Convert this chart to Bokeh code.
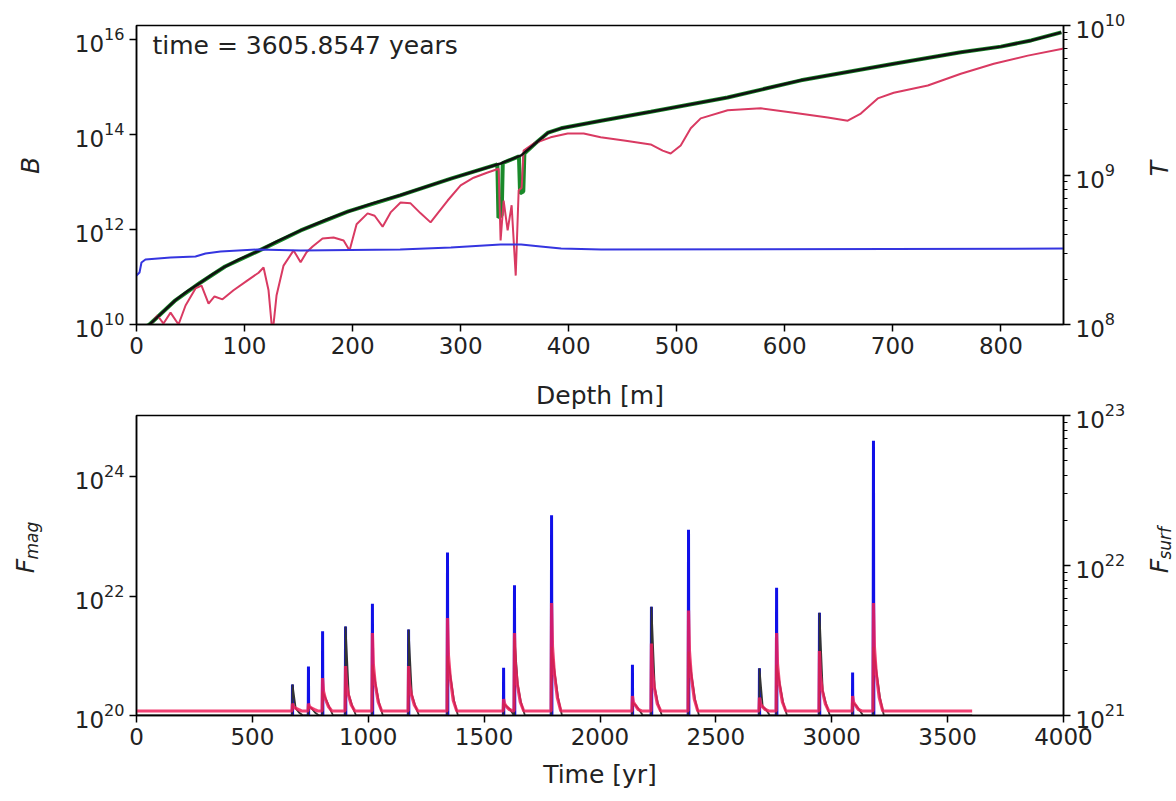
import math
from bokeh.plotting import figure
from bokeh.models import Range1d, LogAxis, LogScale, FixedTicker, Label, Title
from bokeh.layouts import column, row
from bokeh.embed import file_html
from bokeh.resources import INLINE

FONT = "DejaVu Sans"

# ---------------- top panel data (depth in m, log10 values) ----------------
black_depth = [3.7, 13, 20, 36, 47, 59, 70, 82, 95, 112, 130, 152, 175, 196, 220, 244, 268, 291, 314, 337,
               356, 369, 381, 393, 430, 476, 547, 615, 701, 763, 800, 828, 856]
black_logB = [9.87, 10.02, 10.17, 10.51, 10.70, 10.88, 11.05, 11.22, 11.37, 11.54, 11.75, 11.98, 12.20, 12.38,
              12.56, 12.72, 12.90, 13.07, 13.23, 13.39, 13.56, 13.81, 14.04, 14.13, 14.29, 14.48, 14.78, 15.14,
              15.49, 15.73, 15.85, 15.98, 16.15]

green_depth = [3.7, 13, 36, 59, 82, 112, 152, 196, 244, 291, 334, 335, 338, 339, 354, 355, 358, 359, 369, 381,
               393, 430, 476, 547, 615, 701, 763, 800, 828, 856]
green_logB = [9.87, 10.02, 10.51, 10.88, 11.22, 11.54, 11.98, 12.38, 12.72, 13.07, 13.37, 12.25, 12.30, 13.40,
              13.54, 12.76, 12.80, 13.60, 13.81, 14.04, 14.13, 14.29, 14.48, 14.78, 15.14, 15.49, 15.73, 15.85,
              15.98, 16.15]

red_depth = [13.0, 19.4, 25.0, 31.5, 38.9, 45.4, 54.6, 60.2, 66.7, 72.2, 79.6, 89.8, 102.8, 113.0, 117.6, 122.2,
             125.9, 129.6, 136.1, 145.4, 151.9, 157.4, 163.0, 172.2, 182.4, 191.7, 197.2, 203.7, 213.9, 220.4,
             227.8, 235.2, 244.4, 253.7, 263.0, 272.2, 278.7, 288.0, 300.0, 312.0, 325.0, 335.2, 337.0, 339.8,
             343.5, 347.2, 351.0, 353.7, 356.5, 358.3, 367.6, 383.3, 399.1, 413.9, 429.6, 452.8, 475.9, 487.0,
             494.4, 503.7, 513.0, 522.2, 547.2, 577.8, 608.3, 639.8, 658.3, 670.4, 686.1, 700.9, 732.4, 763.0,
             793.5, 825.0, 858.3]
red_logB = [10.0, 10.19, 10.02, 10.25, 10.0, 10.40, 10.76, 10.82, 10.44, 10.59, 10.53, 10.72, 10.93, 11.09,
            11.20, 10.72, 9.80, 10.61, 11.24, 11.56, 11.31, 11.52, 11.64, 11.81, 11.83, 11.77, 11.56, 12.11,
            12.34, 12.29, 12.06, 12.36, 12.57, 12.55, 12.34, 12.15, 12.34, 12.61, 12.93, 13.09, 13.20, 13.28,
            11.77, 12.61, 11.98, 12.51, 11.03, 12.82, 12.88, 13.66, 13.81, 13.94, 14.02, 14.02, 13.94, 13.87,
            13.79, 13.66, 13.60, 13.77, 14.13, 14.34, 14.51, 14.55, 14.46, 14.36, 14.29, 14.44, 14.76, 14.88,
            15.03, 15.28, 15.49, 15.66, 15.81]

blue_depth = [0, 2.8, 4.6, 8.3, 31.5, 54.6, 63.9, 77.8, 112, 152, 244, 291, 337, 356, 374, 393, 430, 858]
blue_logT = [8.328, 8.348, 8.415, 8.435, 8.448, 8.455, 8.475, 8.488, 8.502, 8.495, 8.502, 8.515, 8.535, 8.535,
             8.522, 8.508, 8.502, 8.508]

depth_ticks = [0, 100, 200, 300, 400, 500, 600, 700, 800]
B_ticks = [1e10, 1e12, 1e14, 1e16]
T_ticks = [1e8, 1e9, 1e10]

# ---------------- bottom panel data (time in yr, log10 values) ----------------
spike_t = [673, 742, 803, 902, 1018, 1174, 1342, 1584, 1631, 1791, 2140, 2222, 2382, 2688, 2762, 2947, 3090, 3180]
fmag_peak = [20.52, 20.82, 21.41, 21.49, 21.87, 21.44, 22.73, 20.80, 22.18, 23.35, 20.85, 21.82, 23.11, 20.79,
             22.14, 21.72, 20.72, 24.60]
black_peak = [20.52, 20.15, 20.40, 21.49, 20.85, 21.44, 21.00, 20.20, 21.30, 21.15, 20.22, 21.82, 21.07, 20.79,
              20.85, 21.72, 20.22, 21.15]
black_mid = [20.12, 20.12, 20.28, 20.35, 20.52, 20.35, 20.62, 20.15, 20.52, 20.70, 20.17, 20.48, 20.65, 20.15,
             20.52, 20.42, 20.17, 20.70]
black_low = [20.05, 20.05, 20.15, 20.17, 20.22, 20.17, 20.25, 20.10, 20.22, 20.30, 20.10, 20.20, 20.27, 20.10,
             20.22, 20.20, 20.10, 20.30]
fsurf_peak = [21.08, 21.08, 21.25, 21.33, 21.55, 21.33, 21.65, 21.11, 21.55, 21.75, 21.13, 21.48, 21.70, 21.12,
              21.55, 21.43, 21.13, 21.75]
fsurf_shoulder = [21.06, 21.06, 21.16, 21.21, 21.34, 21.21, 21.40, 21.08, 21.34, 21.46, 21.09, 21.30, 21.43, 21.08,
                  21.34, 21.27, 21.09, 21.46]
fsurf_mid = [21.05, 21.05, 21.11, 21.14, 21.21, 21.14, 21.25, 21.06, 21.21, 21.28, 21.07, 21.19, 21.26, 21.06,
             21.21, 21.17, 21.07, 21.28]
fsurf_low = [21.04, 21.04, 21.06, 21.07, 21.09, 21.07, 21.10, 21.04, 21.09, 21.12, 21.04, 21.08, 21.11, 21.04,
             21.09, 21.08, 21.04, 21.12]
fsurf_base = 21.03
fmag_base = 19.0
black_base = 20.0
t_end = 3605.8547

time_ticks = [0, 500, 1000, 1500, 2000, 2500, 3000, 3500, 4000]
Fmag_ticks = [1e20, 1e22, 1e24]
Fsurf_ticks = [1e21, 1e22, 1e23]

TXT = "#222222"


def pw(vals):
    return [10 ** v for v in vals]


def style_axis(ax):
    ax.major_label_text_font = FONT
    ax.major_label_text_font_size = "23px"
    ax.major_label_text_color = TXT
    ax.major_tick_out = 7
    ax.major_tick_in = 0
    ax.minor_tick_out = 4
    ax.minor_tick_in = 0
    ax.major_tick_line_color = "black"
    ax.minor_tick_line_color = "black"
    ax.axis_line_color = "black"
    ax.axis_line_width = 1.5
    ax.major_tick_line_width = 1.5
    ax.axis_label_text_font = FONT
    ax.axis_label_text_font_size = "25px"
    ax.axis_label_text_color = TXT
    ax.axis_label_text_font_style = "normal"


def minor_list(decades):
    out = []
    for d in decades:
        for m in range(2, 10):
            out.append(m * 10 ** d)
    return out


def side_fig(w, h):
    f = figure(width=w, height=h, x_range=Range1d(0, w), y_range=Range1d(0, h), output_backend="svg",
               toolbar_location=None, min_border=0, x_axis_location=None, y_axis_location=None)
    f.grid.visible = False
    f.outline_line_color = None
    return f


def rot_label(f, x, y, text, size, align):
    f.add_layout(Label(x=x, y=y, text=text, angle=math.pi / 2, text_font=FONT, text_font_size=size,
                       text_font_style="italic", text_color=TXT, text_align=align,
                       text_baseline="middle"))


H1, H2 = 370, 431
WL, WR = 50, 44
WM = 1176 - WL - WR

# ---------------- top figure ----------------
p1 = figure(width=WM, height=H1, x_range=Range1d(0, 858), y_range=Range1d(1e10, 1.97e16),
            y_axis_type="log", output_backend="svg", toolbar_location=None,
            min_border_left=136 - WL, min_border_right=(1176 - WR) - 1063, min_border_top=25, min_border_bottom=46)
p1.extra_y_ranges = {"T": Range1d(1e8, 1e10)}
p1.extra_y_scales = {"T": LogScale()}
p1.grid.visible = False
p1.outline_line_color = "black"
p1.outline_line_width = 1.5

p1.line(green_depth, pw(green_logB), line_color="#1a8a2a", line_width=4)
p1.line(red_depth, pw(red_logB), line_color="#d93a62", line_width=2)
p1.line(black_depth, pw(black_logB), line_color="#111111", line_width=2.5)
p1.line(blue_depth, pw(blue_logT), line_color="#3535e0", line_width=2, y_range_name="T")

p1.xaxis.ticker = FixedTicker(ticks=depth_ticks, minor_ticks=[])
p1.yaxis.ticker = FixedTicker(ticks=B_ticks, minor_ticks=[])
for ax in p1.xaxis + p1.yaxis:
    style_axis(ax)

axT = LogAxis(y_range_name="T", ticker=FixedTicker(ticks=T_ticks, minor_ticks=minor_list([8, 9])))
style_axis(axT)
p1.add_layout(axT, "right")

p1.add_layout(Label(x=14.8, y=10 ** 15.874, text="time = %.4f years" % t_end, text_font=FONT,
                    text_font_size="25px", text_color=TXT, text_baseline="middle", text_align="left"))

l1 = side_fig(WL, H1)
rot_label(l1, 30, H1 - 173, "B", "25px", "center")
r1 = side_fig(WR, H1)
rot_label(r1, 27, H1 - 177, "T", "25px", "center")

# ---------------- bottom figure ----------------
p2 = figure(width=WM, height=H2, x_range=Range1d(0, 4000), y_range=Range1d(1e20, 1.05e25),
            y_axis_type="log", output_backend="svg", toolbar_location=None,
            min_border_left=136 - WL, min_border_right=(1176 - WR) - 1063, min_border_top=45, min_border_bottom=86)
p2.extra_y_ranges = {"S": Range1d(1e21, 1e23)}
p2.extra_y_scales = {"S": LogScale()}
p2.grid.visible = False
p2.outline_line_color = "black"
p2.outline_line_width = 1.5

# x-axis label of the upper panel sits in the gap above the lower panel
p2.add_layout(Title(text="Depth [m]", align="center", text_font=FONT, text_font_size="25px",
                    text_font_style="normal", text_color=TXT, standoff=12), "above")

# blue F_mag spikes
bt, bv = [0.0], [fmag_base]
for i, t0 in enumerate(spike_t):
    bt += [t0 - 2, t0, t0 + 2]
    bv += [fmag_base, fmag_peak[i], fmag_base]
bt.append(t_end)
bv.append(fmag_base)
p2.line(bt, pw(bv), line_color="#1010e8", line_width=3)

# black series
kt, kv = [0.0], [black_base]
for i, t0 in enumerate(spike_t):
    kt += [t0 - 1, t0, t0 + 14, t0 + 28, t0 + 45]
    kv += [black_base, black_peak[i], black_mid[i], black_low[i], black_base]
kt.append(t_end)
kv.append(black_base)
p2.line(kt, pw(kv), line_color="#333333", line_width=1.8)

# red F_surf series (right axis)
rt, rv = [0.0], [fsurf_base]
for i, t0 in enumerate(spike_t):
    rt += [t0 - 2, t0, t0 + 4, t0 + 12, t0 + 25, t0 + 40]
    rv += [fsurf_base, fsurf_peak[i], fsurf_shoulder[i], fsurf_mid[i], fsurf_low[i], fsurf_base]
rt.append(t_end)
rv.append(fsurf_base)
p2.line(rt, pw(rv), line_color="#f0205a", line_width=3.2, line_alpha=0.85, y_range_name="S")

p2.xaxis.ticker = FixedTicker(ticks=time_ticks, minor_ticks=[])
p2.xaxis.axis_label = "Time [yr]"
p2.yaxis.ticker = FixedTicker(ticks=Fmag_ticks, minor_ticks=[])
for ax in p2.xaxis + p2.yaxis:
    style_axis(ax)
for ax in p2.xaxis:
    ax.axis_label_standoff = 12

axS = LogAxis(y_range_name="S", ticker=FixedTicker(ticks=Fsurf_ticks, minor_ticks=minor_list([21, 22])))
style_axis(axS)
p2.add_layout(axS, "right")

l2 = side_fig(WL, H2)
rot_label(l2, 25, 801 - 576, "F", "25px", "right")
rot_label(l2, 31, 801 - 577, "mag", "17px", "left")
r2 = side_fig(WR, H2)
rot_label(r2, 27, 801 - 576, "F", "25px", "right")
rot_label(r2, 32, 801 - 577, "surf", "17px", "left")

layout = column(row(l1, p1, r1, spacing=0), row(l2, p2, r2, spacing=0), spacing=0)
open("out.html", "w").write(file_html(layout, INLINE))
